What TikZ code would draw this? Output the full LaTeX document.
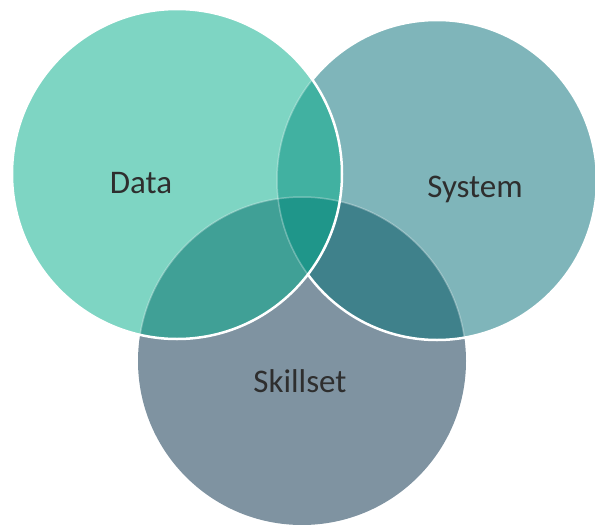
\documentclass[tikz,border=0pt]{standalone}
\usepackage{fontspec}
\setmainfont{Carlito}
\usetikzlibrary{positioning}
\definecolor{dataclr}{HTML}{7ED5C3}
\definecolor{sysclr}{HTML}{7FB5BA}
\definecolor{skillclr}{HTML}{7F93A1}
\definecolor{dsysclr}{HTML}{41B1A1}
\definecolor{dskillclr}{HTML}{40A096}
\definecolor{sskillclr}{HTML}{3F818B}
\definecolor{allclr}{HTML}{1F968A}

\begin{document}
\begin{tikzpicture}[
    x=1pt, y=-1pt,
    lbl/.style ={
        font=\fontsize{33}{36}\selectfont,
        text=black!82,
        anchor=base
    },
    rim/.style ={
        draw=white,
        line width=2.5pt
    },
    faint/.style ={
        draw=white,
        draw opacity=0.3,
        line width=1.5pt
    }
    ]
    \useasboundingbox (0,0) rectangle (595,525);
    \coordinate (data) at (177,174);
    \coordinate (system) at (437,180);
    \coordinate (skill) at (302,361);

    % bottom: skillset
    \fill[skillclr] (skill) circle[radius=164pt];

    % middle: system
    \fill[sysclr] (system) circle[radius=160pt];
    \begin{scope}
        \clip (system) circle[radius=160pt];
        \fill[sskillclr] (skill) circle[radius=164pt];
        \draw[faint] (skill) circle[radius=164pt];
    \end{scope}
    \draw[rim] (system) circle[radius=160pt];

    % top: data
    \fill[dataclr] (data) circle[radius=165pt];
    \begin{scope}
        \clip (data) circle[radius=165pt];
        \fill[dsysclr] (system) circle[radius=160pt];
        \fill[dskillclr] (skill) circle[radius=164pt];
        \begin{scope}
            \clip (system) circle[radius=160pt];
            \fill[allclr] (skill) circle[radius=164pt];
        \end{scope}
        \draw[faint] (system) circle[radius=160pt];
        \draw[faint] (skill) circle[radius=164pt];
    \end{scope}
    \draw[rim] (data) circle[radius=165pt];

    \node[lbl] (datalbl) at (141,193) {Data};
    \node[lbl] (syslbl) at (475,197) {System};
    \node[lbl] (skilllbl) at (300,392) {Skillset};
\end{tikzpicture}
\end{document}
